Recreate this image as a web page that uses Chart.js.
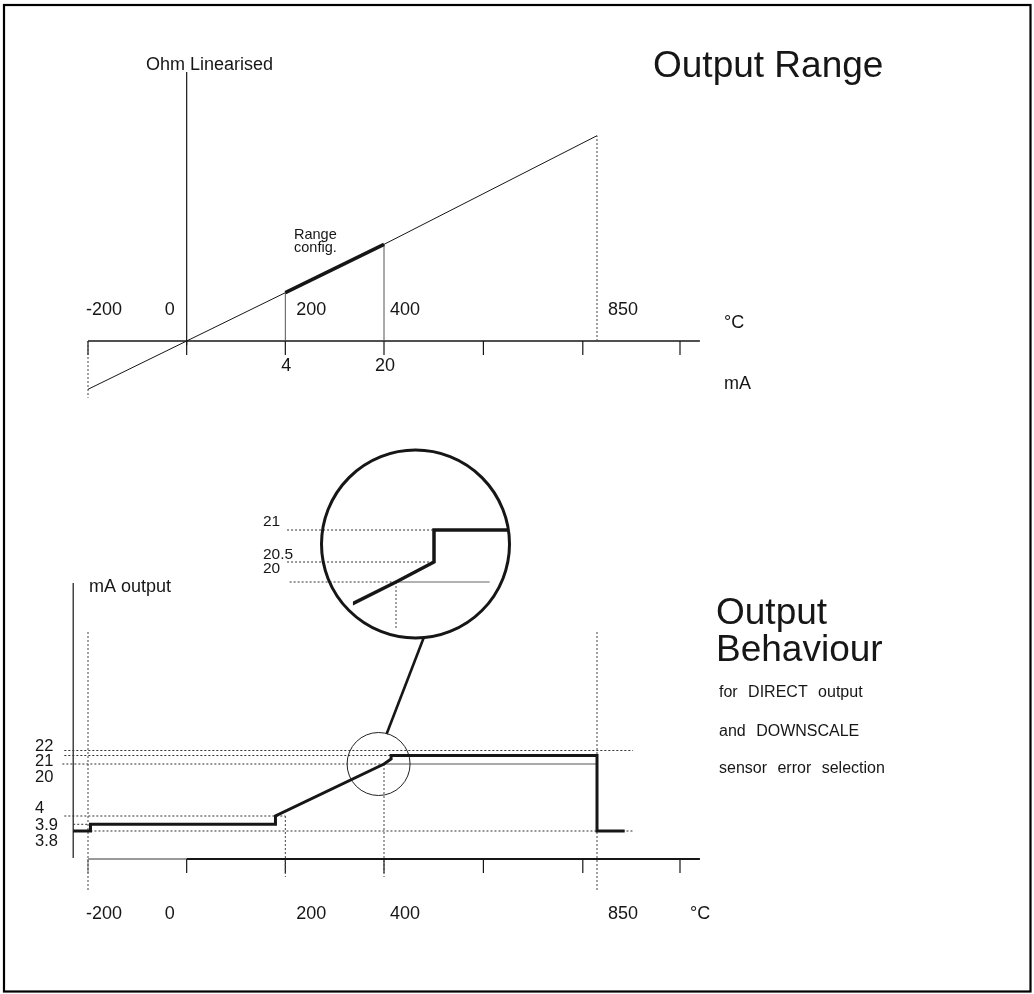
<!DOCTYPE html>
<html>
<head>
<meta charset="utf-8">
<script src="https://cdn.jsdelivr.net/npm/chart.js@4/dist/chart.umd.min.js"></script>
<style>
  html, body { margin: 0; padding: 0; background: #fff; }
  canvas { display: block; }
</style>
</head>
<body>
<canvas id="diagram" width="1034" height="994"></canvas>
<script>
// ---- data ----
const tempLabels = ['-200', '0', '200', '400', '850'];
const tempValues = [-200, 0, 200, 400, 850];
const rangeLabels = ['4', '20'];          // mA at the range ends
const rangeTemps = [200, 400];
const linTemps = [-200, 0, 200, 400, 850]; // Ohm linearised line
const linOhm = [-200, 0, 200, 400, 850];
const axisMarks = [-200, 0, 200, 400, 610, 820, 1000];

const outTemps = [-230, -195, -195, 180, 180, 400, 415, 415, 850, 850, 900];
const outMA = [3.8, 3.8, 3.9, 3.9, 4, 20, 20.5, 21, 21, 3.8, 3.8];
const levelsHigh = [22, 21, 20];
const levelsLow = [4, 3.9, 3.8];
const zoomLevels = [21, 20.5, 20];
const lensCenter = { x: 407.7, y: 20.78 };  // centre of the magnifier (zoomed units)
const markCenter = { x: 389, y: 20 };       // circled spot on the output curve
const lensFrom = 383;                       // first °C shown in the magnifier

// ---- scale calibration (value -> page pixel) ----
const PAGE_W = 1034, PAGE_H = 994;
const scaleStops = {
  xT: [[-200, 88], [400, 384], [850, 597], [1000, 680]],
  yT: [[0, 341], [850, 135.7]],
  xB: [[-200, 88], [400, 384], [850, 597], [1000, 680]],
  yB: [[0, 859], [3.8, 831], [3.9, 824.3], [4, 816], [20, 764], [20.5, 759], [21, 755.5], [22, 750.5]],
  xI: [[400, 396], [415, 434]],
  yI: [[19, 599.4], [20, 582], [20.5, 562], [21, 530]]
};

// piecewise linear scale, the drawing uses broken axes
class StopScale extends Chart.LinearScale {
  static id = 'stops';
  determineDataLimits() {
    const s = scaleStops[this.id];
    this.min = s[0][0];
    this.max = s[s.length - 1][0];
  }
  getPixelForValue(v) {
    if (v === null || v === undefined || isNaN(v)) return NaN;
    const s = scaleStops[this.id];
    let i = 0;
    while (i < s.length - 2 && v > s[i + 1][0]) i++;
    const p = s[i][1] + (v - s[i][0]) * (s[i + 1][1] - s[i][1]) / (s[i + 1][0] - s[i][0]);
    return this.isHorizontal() ? this.left + p * this.width / PAGE_W : this.top + p * this.height / PAGE_H;
  }
  getValueForPixel(px) {
    const s = scaleStops[this.id];
    const p = this.isHorizontal() ? (px - this.left) * PAGE_W / this.width : (px - this.top) * PAGE_H / this.height;
    return s[0][0] + (p - s[0][1]) * (s[1][0] - s[0][0]) / (s[1][1] - s[0][1]);
  }
}
Chart.register(StopScale);

const FONT = '"Liberation Sans", Arial, Helvetica, sans-serif';
const INK = '#161616';

const pts = (xs, ys) => xs.map((x, i) => ({ x: x, y: ys[i] }));

function line(ctx, x0, y0, x1, y1, w, color, dash) {
  ctx.save();
  ctx.beginPath();
  ctx.lineWidth = w;
  ctx.strokeStyle = color;
  ctx.setLineDash(dash || []);
  ctx.moveTo(x0, y0);
  ctx.lineTo(x1, y1);
  ctx.stroke();
  ctx.restore();
}

function txt(ctx, s, x, y, size, align) {
  ctx.font = size + 'px ' + FONT;
  ctx.textAlign = align || 'left';
  ctx.textBaseline = 'alphabetic';
  ctx.fillStyle = INK;
  ctx.fillText(s, x, y);
}

const DOT = [2, 2];

const diagramPlugin = {
  id: 'diagram',
  beforeDraw(chart) {
    const ctx = chart.ctx;
    ctx.save();
    ctx.fillStyle = '#fff';
    ctx.fillRect(0, 0, chart.width, chart.height);
    ctx.lineWidth = 2.2;
    ctx.strokeStyle = '#000';
    ctx.strokeRect(4, 5, 1026.5, 986.5);
    ctx.restore();
  },
  beforeDatasetsDraw(chart) {
    const ctx = chart.ctx;
    const { xT, yT, xB, yB, xI, yI } = chart.scales;

    // ---- Output Range ----
    const y0 = yT.getPixelForValue(0);
    line(ctx, xT.getPixelForValue(-200), y0, xT.getPixelForValue(1036), y0, 1.5, INK);
    axisMarks.forEach(t => {
      const x = xT.getPixelForValue(t);
      line(ctx, x, y0, x, y0 + 14, 1.2, INK);
    });
    line(ctx, xT.getPixelForValue(0), yT.getPixelForValue(1114), xT.getPixelForValue(0), yT.getPixelForValue(-17), 1.2, INK);
    line(ctx, xT.getPixelForValue(-200), y0, xT.getPixelForValue(-200), yT.getPixelForValue(-235), 1, '#444', DOT);
    line(ctx, xT.getPixelForValue(850), y0, xT.getPixelForValue(850), yT.getPixelForValue(850), 1, '#444', DOT);
    rangeTemps.forEach(t => {
      const x = xT.getPixelForValue(t);
      line(ctx, x, y0, x, yT.getPixelForValue(linOhm[linTemps.indexOf(t)]), 1, '#555');
    });

    // ---- Output Behaviour ----
    const b0 = yB.getPixelForValue(0);
    line(ctx, xB.getPixelForValue(-200), b0, xB.getPixelForValue(0), b0, 1.5, '#777');
    line(ctx, xB.getPixelForValue(0), b0, xB.getPixelForValue(1036), b0, 2, INK);
    axisMarks.forEach((t, i) => {
      const x = xB.getPixelForValue(t);
      line(ctx, x, b0, x, b0 + 14, 1.2, i === 0 ? '#777' : INK);
    });
    line(ctx, xB.getPixelForValue(-230), 583, xB.getPixelForValue(-230), b0 - 1, 1.2, INK);

    [-200, 850].forEach(t => {
      const x = xB.getPixelForValue(t);
      line(ctx, x, 632, x, 890, 1, '#444', DOT);
    });
    line(ctx, xB.getPixelForValue(200), yB.getPixelForValue(4), xB.getPixelForValue(200), b0 + 18, 1, '#444', DOT);
    line(ctx, xB.getPixelForValue(400), yB.getPixelForValue(20), xB.getPixelForValue(400), b0 + 18, 1, '#444', DOT);

    const hDot = (lvl, t0, t1) => {
      const y = yB.getPixelForValue(lvl);
      line(ctx, xB.getPixelForValue(t0), y, xB.getPixelForValue(t1), y, 1, '#333', DOT);
    };
    hDot(22, -248, 915);
    hDot(21, -248, 415);
    hDot(20, -252, 400);
    hDot(4, -248, 200);
    hDot(3.9, -230, -195);
    hDot(3.8, -195, 915);
    line(ctx, xB.getPixelForValue(400), yB.getPixelForValue(20), xB.getPixelForValue(850), yB.getPixelForValue(20), 1, '#555');

    // ---- magnifier guides ----
    [21, 20.5].forEach(lvl => {
      const y = yI.getPixelForValue(lvl);
      line(ctx, xI.getPixelForValue(357), y, xI.getPixelForValue(415), y, 1, '#333', DOT);
    });
    const yz = yI.getPixelForValue(20);
    line(ctx, xI.getPixelForValue(358), yz, xI.getPixelForValue(400), yz, 1, '#333', DOT);
    line(ctx, xI.getPixelForValue(400), yz, xI.getPixelForValue(437), yz, 1.2, '#666');
    line(ctx, xI.getPixelForValue(400), yz, xI.getPixelForValue(400), yI.getPixelForValue(17.3), 1, '#444', DOT);

    // connector between the two circles
    const P = { x: xI.getPixelForValue(lensCenter.x), y: yI.getPixelForValue(lensCenter.y) };
    const Q = { x: xB.getPixelForValue(markCenter.x), y: yB.getPixelForValue(markCenter.y) };
    const a1 = 85 * Math.PI / 180, a2 = -75 * Math.PI / 180;
    line(ctx, P.x + 94 * Math.cos(a1), P.y + 94 * Math.sin(a1), Q.x + 31 * Math.cos(a2), Q.y + 31 * Math.sin(a2), 2.6, INK);
  },
  beforeDatasetDraw(chart, args) {
    const ds = chart.data.datasets[args.index];
    if (!ds.inLens) return;
    const ctx = chart.ctx;
    const { xI, yI } = chart.scales;
    const cx = xI.getPixelForValue(lensCenter.x), cy = yI.getPixelForValue(lensCenter.y);
    const left = xI.getPixelForValue(lensFrom);
    ctx.save();
    ctx.beginPath();
    ctx.arc(cx, cy, 94, 0, Math.PI * 2);
    ctx.clip();
    ctx.beginPath();
    ctx.rect(left, 0, chart.width - left, chart.height);
    ctx.clip();
  },
  afterDatasetDraw(chart, args) {
    const ds = chart.data.datasets[args.index];
    if (ds.inLens) chart.ctx.restore();
  },
  afterDatasetsDraw(chart) {
    const ctx = chart.ctx;
    const { xT, xB, yB, yI } = chart.scales;
    const dx = [-2, -22, 11, 6, 11];

    // top texts
    txt(ctx, 'Ohm Linearised', 146, 70, 18);
    txt(ctx, 'Output Range', 653, 77, 37);
    tempLabels.forEach((s, i) => txt(ctx, s, xT.getPixelForValue(tempValues[i]) + dx[i], 315, 18));
    txt(ctx, '°C', 724, 328, 18);
    rangeLabels.forEach((s, i) => txt(ctx, s, xT.getPixelForValue(rangeTemps[i]) + 1, 371, 18, 'center'));
    txt(ctx, 'mA', 724, 389, 18);
    txt(ctx, 'Range', 294, 238.5, 14.5);
    txt(ctx, 'config.', 294, 251.5, 14.5);

    // bottom texts
    txt(ctx, 'mA output', 89, 592, 18);
    levelsHigh.forEach((v, i) => txt(ctx, String(v), 35, yB.getPixelForValue(levelsHigh[0]) + i * 15.5, 16.5));
    levelsLow.forEach((v, i) => txt(ctx, String(v), 35, yB.getPixelForValue(levelsLow[0]) - 3 + i * 16.5, 16.5));
    tempLabels.forEach((s, i) => txt(ctx, s, xB.getPixelForValue(tempValues[i]) + dx[i], 919, 18));
    txt(ctx, '°C', 690, 919, 18);

    // magnifier labels
    const zoff = [-4, -3, -9];
    zoomLevels.forEach((v, i) => txt(ctx, String(v), 263, yI.getPixelForValue(v) + zoff[i], 15.5));

    txt(ctx, 'Output', 716, 624, 37);
    txt(ctx, 'Behaviour', 716, 661, 37);
    if ('wordSpacing' in ctx) ctx.wordSpacing = '6px';
    txt(ctx, 'for DIRECT output', 719, 697, 16);
    txt(ctx, 'and DOWNSCALE', 719, 736, 16);
    txt(ctx, 'sensor error selection', 719, 773, 16);
    if ('wordSpacing' in ctx) ctx.wordSpacing = '0px';
  }
};

const stopAxis = { type: 'stops', display: false };

new Chart(document.getElementById('diagram'), {
  type: 'line',
  data: {
    datasets: [
      {
        label: 'Range config.',
        data: pts(rangeTemps, rangeTemps.map(t => linOhm[linTemps.indexOf(t)])),
        xAxisID: 'xT', yAxisID: 'yT',
        borderColor: INK, borderWidth: 3.5
      },
      {
        label: 'Ohm Linearised',
        data: pts(linTemps, linOhm),
        xAxisID: 'xT', yAxisID: 'yT',
        borderColor: INK, borderWidth: 1
      },
      {
        label: 'mA output',
        data: pts(outTemps, outMA),
        xAxisID: 'xB', yAxisID: 'yB',
        borderColor: INK, borderWidth: 3
      },
      {
        label: 'mA output (zoom)',
        inLens: true,
        data: pts(outTemps, outMA),
        xAxisID: 'xI', yAxisID: 'yI',
        borderColor: INK, borderWidth: 3.5
      },
      {
        label: 'lens',
        data: [lensCenter],
        xAxisID: 'xI', yAxisID: 'yI',
        showLine: false,
        pointRadius: 94, pointBorderWidth: 3,
        pointBorderColor: INK, pointBackgroundColor: 'rgba(0,0,0,0)'
      },
      {
        label: 'mark',
        data: [markCenter],
        xAxisID: 'xB', yAxisID: 'yB',
        showLine: false,
        pointRadius: 31.5, pointBorderWidth: 1,
        pointBorderColor: '#222', pointBackgroundColor: 'rgba(0,0,0,0)'
      }
    ]
  },
  options: {
    responsive: false,
    animation: false,
    events: [],
    layout: { padding: 0, autoPadding: false },
    clip: false,
    elements: {
      point: { radius: 0, hoverRadius: 0 },
      line: { tension: 0, borderCapStyle: 'butt', borderJoinStyle: 'miter' }
    },
    plugins: {
      legend: { display: false },
      tooltip: { enabled: false }
    },
    scales: {
      xT: stopAxis, yT: stopAxis,
      xB: stopAxis, yB: stopAxis,
      xI: stopAxis, yI: stopAxis
    }
  },
  plugins: [diagramPlugin]
});
</script>
</body>
</html>
